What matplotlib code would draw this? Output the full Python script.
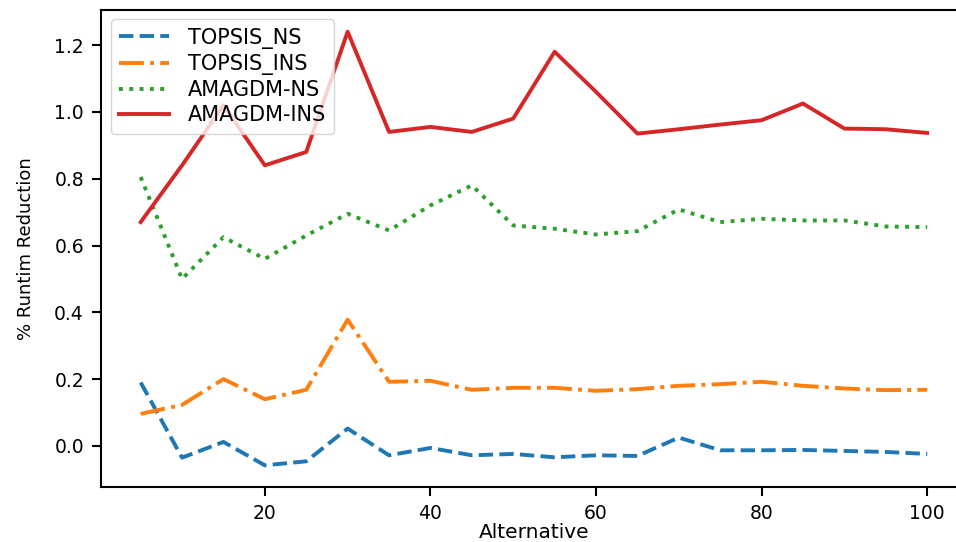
import matplotlib
matplotlib.use('Agg')
import matplotlib.pyplot as plt

alternatives = [5, 10, 15, 20, 25, 30, 35, 40, 45, 50,
                55, 60, 65, 70, 75, 80, 85, 90, 95, 100]

topsis_ns = [0.19, -0.035, 0.012, -0.058, -0.046, 0.052, -0.028, -0.006, -0.028, -0.024,
             -0.034, -0.028, -0.030, 0.025, -0.013, -0.013, -0.012, -0.015, -0.018, -0.024]
topsis_ins = [0.096, 0.123, 0.200, 0.140, 0.168, 0.378, 0.192, 0.195, 0.168, 0.174,
              0.174, 0.165, 0.170, 0.180, 0.185, 0.192, 0.180, 0.172, 0.167, 0.168]
amagdm_ns = [0.805, 0.500, 0.625, 0.560, 0.630, 0.695, 0.645, 0.720, 0.780, 0.660,
             0.650, 0.633, 0.643, 0.708, 0.670, 0.680, 0.675, 0.675, 0.657, 0.655]
amagdm_ins = [0.670, 0.840, 1.020, 0.840, 0.880, 1.240, 0.940, 0.955, 0.940, 0.980,
              1.180, 1.060, 0.935, 0.948, 0.962, 0.975, 1.025, 0.950, 0.948, 0.937]

series = [
  ('TOPSIS_NS', topsis_ns, '--', '#1f77b4'),
  ('TOPSIS_INS', topsis_ins, '-.', '#ff7f0e'),
  ('AMAGDM-NS', amagdm_ns, ':', '#2ca02c'),
  ('AMAGDM-INS', amagdm_ins, '-', '#d62728'),
]

fig = plt.figure(figsize=(9.56, 5.42), dpi=100)
# the axes run past the right edge, as in the cropped original
ax = fig.add_axes([0.106, 0.1015, 0.905, 0.880])

for name, vals, ls, col in series:
  ax.plot(alternatives, vals, linestyle=ls, color=col, linewidth=2.8, label=name)

ax.set_xticks([20, 40, 60, 80, 100])
ax.set_yticks([0.0, 0.2, 0.4, 0.6, 0.8, 1.0, 1.2])
ax.tick_params(labelsize=13.5, width=1.5, length=6.5, pad=6)
for s in ax.spines.values():
  s.set_linewidth(1.5)
ax.spines['right'].set_visible(False)

ax.set_xlabel('Alternative', fontsize=14.5, labelpad=0)
ax.set_ylabel('% Runtim Reduction', fontsize=13, labelpad=14)
ax.legend(loc='upper left', fontsize=15, handlelength=2.4, labelspacing=0.25,
          borderaxespad=0.45, handletextpad=0.9)

fig.savefig('out.png', dpi=100)
